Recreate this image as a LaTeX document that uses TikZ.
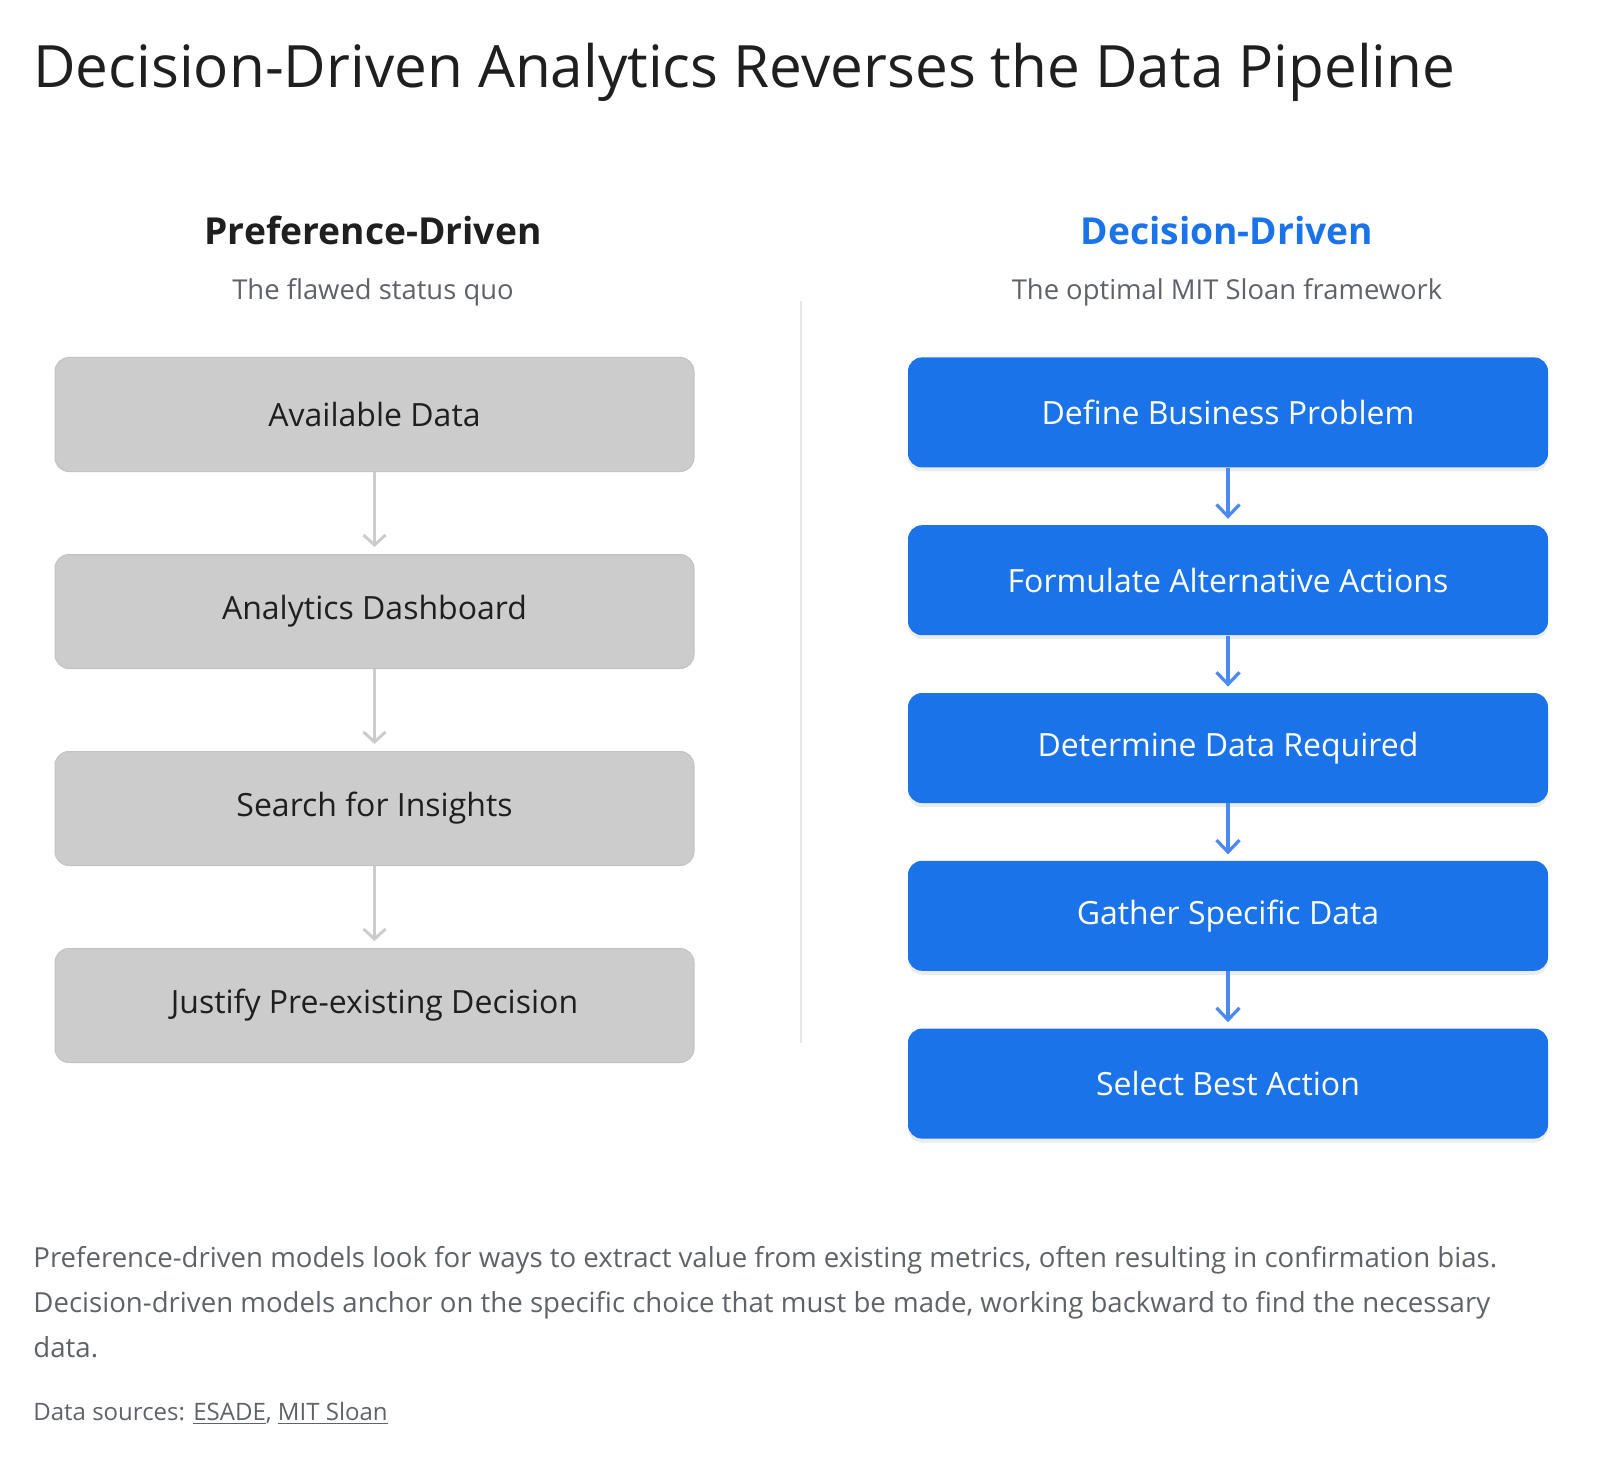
\documentclass[tikz,border=0pt]{standalone}
\usepackage{fontspec}
\setmainfont{Open Sans}
\usepackage{xcolor}
\usetikzlibrary{arrows.meta, positioning, shadows}

\definecolor{inkdark}{HTML}{1F1F1F}
\definecolor{inkgray}{HTML}{5F6368}
\definecolor{gblue}{HTML}{1A73E8}
\definecolor{arrowblue}{HTML}{4A8AF0}
\definecolor{boxgray}{HTML}{CCCCCC}
\definecolor{edgegray}{HTML}{C2C2C2}
\definecolor{divgray}{HTML}{E8E8E8}

\begin{document}
\begin{tikzpicture}[
  x=0.5pt, y=-0.5pt,
  oldbox/.style={rectangle, draw=edgegray, line width=0.5pt, fill=boxgray, rounded corners=7pt,
    minimum width=319.5pt, minimum height=57pt, align=center, text=inkdark, font=\fontsize{16}{19}\selectfont},
  newbox/.style={rectangle, fill=gblue, rounded corners=7pt, drop shadow={shadow xshift=0pt, shadow yshift=-2pt, opacity=0.15},
    minimum width=320pt, minimum height=55pt, align=center, text=white, font=\fontsize{16}{19}\selectfont},
  oldarrow/.style={-{Straight Barb[length=5pt, width=11pt]}, line width=1.5pt, draw=boxgray, shorten >=3.5pt},
  newarrow/.style={-{Straight Barb[length=6pt, width=11.5pt]}, line width=1.6pt, draw=arrowblue, shorten >=3pt},
  heading/.style={font=\fontsize{18.6}{22}\selectfont\bfseries, anchor=base},
  subhead/.style={font=\fontsize{13.7}{16}\selectfont, text=inkgray, anchor=base}
]
\useasboundingbox (0,0) rectangle (1600,1460);

% Title
\node[anchor=base west, inner sep=0pt, text=inkdark, font=\fontsize{29.2}{34}\selectfont] (title) at (33,88)
  {Decision-Driven Analytics Reverses the Data Pipeline};

% Column headings
\node[heading, text=inkdark] (prefhead) at (373,245) {Preference-Driven};
\node[subhead] (prefsub) at (373,300) {The flawed status quo};
\node[heading, text=gblue] (dechead) at (1227,245) {Decision-Driven};
\node[subhead] (decsub) at (1227,300) {The optimal MIT Sloan framework};

% Divider
\coordinate (divtop) at (801,301);
\coordinate (divbot) at (801,1043);
\draw[divgray, line width=0.6pt] (divtop) -- (divbot);

% Preference-driven column
\node[oldbox, anchor=north] (available) at (374.5,357) {Available Data};
\node[oldbox, below=41pt of available] (dashboard) {Analytics Dashboard};
\node[oldbox, below=41pt of dashboard] (insights) {Search for Insights};
\node[oldbox, below=41pt of insights] (justify) {Justify Pre-existing Decision};

\draw[oldarrow] (available) -- (dashboard);
\draw[oldarrow] (dashboard) -- (insights);
\draw[oldarrow] (insights) -- (justify);

% Decision-driven column
\node[newbox, anchor=north] (problem) at (1228,357) {Define Business Problem};
\node[newbox, below=28.5pt of problem] (actions) {Formulate Alternative Actions};
\node[newbox, below=28.5pt of actions] (required) {Determine Data Required};
\node[newbox, below=28.5pt of required] (gather) {Gather Specific Data};
\node[newbox, below=28.5pt of gather] (select) {Select Best Action};

\draw[newarrow] (problem) -- (actions);
\draw[newarrow] (actions) -- (required);
\draw[newarrow] (required) -- (gather);
\draw[newarrow] (gather) -- (select);

% Footer (base anchor sits on the last line)
\node[anchor=base west, inner sep=0pt, align=left, text=inkgray, font=\fontsize{13.8}{22.5}\selectfont] (note) at (33,1357)
  {Preference-driven models look for ways to extract value from existing metrics, often resulting in confirmation bias.\\
   Decision-driven models anchor on the specific choice that must be made, working backward to find the necessary\\
   data.};
\node[anchor=base west, inner sep=0pt, text=inkgray, font=\fontsize{12}{14}\selectfont] (sources) at (33,1420)
  {Data sources: \underline{ESADE}, \underline{MIT Sloan}};

\end{tikzpicture}
\end{document}
